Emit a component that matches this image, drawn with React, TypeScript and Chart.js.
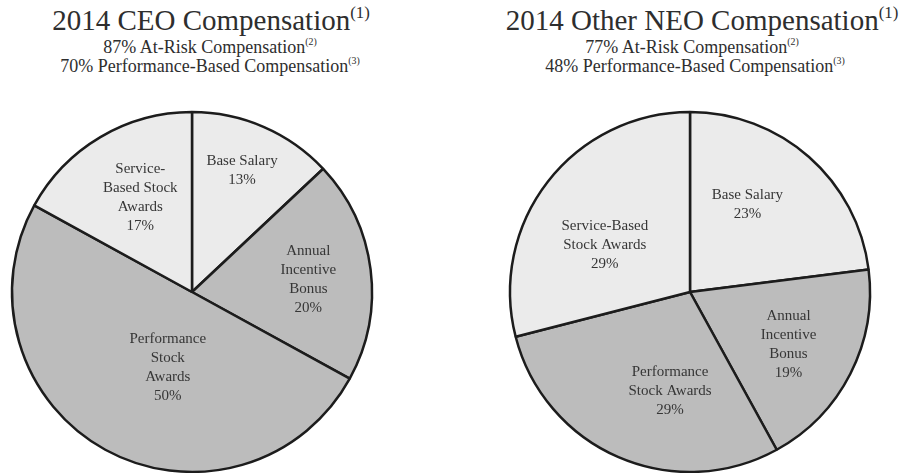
import React, { useEffect, useRef } from "react";
import { Chart, registerables } from "chart.js";

Chart.register(...registerables);

// ---- Data ----
const ceoCategories = ["Base Salary", "Annual Incentive Bonus", "Performance Stock Awards", "Service-Based Stock Awards"];
const ceoValues = [13, 20, 50, 17];
const ceoLabelLines = [
  ["Base Salary"],
  ["Annual", "Incentive", "Bonus"],
  ["Performance", "Stock", "Awards"],
  ["Service-", "Based Stock", "Awards"],
];

const neoCategories = ["Base Salary", "Annual Incentive Bonus", "Performance Stock Awards", "Service-Based Stock Awards"];
const neoValues = [23, 19, 29, 29];
const neoLabelLines = [
  ["Base Salary"],
  ["Annual", "Incentive", "Bonus"],
  ["Performance", "Stock Awards"],
  ["Service-Based", "Stock Awards"],
];

const ceoTitle = "2014 CEO Compensation";
const ceoSub1 = "87% At-Risk Compensation";
const ceoSub2 = "70% Performance-Based Compensation";
const neoTitle = "2014 Other NEO Compensation";
const neoSub1 = "77% At-Risk Compensation";
const neoSub2 = "48% Performance-Based Compensation";

// ---- Styles ----
const LIGHT = "#ebebeb";
const DARK = "#bcbcbc";
const sliceColors = [LIGHT, DARK, DARK, LIGHT];
const FONT = "\"Liberation Serif\", \"Times New Roman\", Times, serif";

const sliceLabelPlugin = {
  id: "sliceLabels",
  afterDatasetsDraw(chart: any, _args: any, opts: any) {
    const meta = chart.getDatasetMeta(0);
    const ctx = chart.ctx;
    const values = chart.data.datasets[0].data as number[];
    ctx.save();
    ctx.font = `15px ${FONT}`;
    ctx.fillStyle = "#363636";
    ctx.textAlign = "center";
    ctx.textBaseline = "middle";
    meta.data.forEach((arc: any, i: number) => {
      const p = arc.getProps(["x", "y", "startAngle", "endAngle", "outerRadius"], true);
      const place = opts.placement[i];
      const mid = (p.startAngle + p.endAngle) / 2 + (place.da * Math.PI) / 180;
      const r = p.outerRadius * place.f;
      const cx = p.x + Math.cos(mid) * r;
      const cy = p.y + Math.sin(mid) * r;
      const lines = [...opts.lines[i], `${values[i]}%`];
      const lh = 19;
      const top = cy - ((lines.length - 1) * lh) / 2;
      lines.forEach((t: string, k: number) => ctx.fillText(t, cx, top + k * lh));
    });
    ctx.restore();
  },
};

function PieChart(props: { categories: string[]; values: number[]; lines: string[][]; placement: { f: number; da: number }[] }) {
  const ref = useRef<HTMLCanvasElement>(null);
  useEffect(() => {
    if (!ref.current) return;
    const chart = new Chart(ref.current, {
      type: "pie",
      data: {
        labels: props.categories,
        datasets: [
          {
            data: props.values,
            backgroundColor: sliceColors,
            borderColor: "#1c1c1c",
            borderWidth: 2.5,
            radius: 180,
          } as any,
        ],
      },
      options: {
        animation: false,
        responsive: false,
        maintainAspectRatio: false,
        layout: { padding: 0 },
        plugins: {
          legend: { display: false },
          tooltip: { enabled: false },
          sliceLabels: { lines: props.lines, placement: props.placement },
        } as any,
      },
      plugins: [sliceLabelPlugin],
    });
    return () => chart.destroy();
  }, []);
  return <canvas ref={ref} width={380} height={380} style={{ width: 380, height: 380, display: "block" }} />;
}

function Heading(props: { x: number; top: number; size: number; lh: number; text: string; sup: string; supScale: number }) {
  return (
    <div
      style={{
        position: "absolute",
        left: props.x - 250,
        width: 500,
        top: props.top,
        textAlign: "center",
        whiteSpace: "nowrap",
        fontFamily: FONT,
        fontSize: props.size,
        lineHeight: `${props.lh}px`,
        color: "#2e2e2e",
      }}
    >
      {props.text}
      <span style={{ fontSize: `${props.supScale}em`, position: "relative", top: `-${props.size * 0.42}px` }}>{props.sup}</span>
    </div>
  );
}

export default function App() {
  return (
    <div style={{ position: "fixed", left: 0, top: 0, width: 904, height: 473, background: "#fff", overflow: "hidden" }}>
      <div style={{ position: "absolute", left: 192 - 190, top: 292 - 190 }}>
        <PieChart
          categories={ceoCategories}
          values={ceoValues}
          lines={ceoLabelLines}
          placement={[
            { f: 0.73, da: -1 },
            { f: 0.65, da: 1 },
            { f: 0.44, da: -11 },
            { f: 0.6, da: 2 },
          ]}
        />
      </div>
      <div style={{ position: "absolute", left: 690 - 190, top: 292 - 190 }}>
        <PieChart
          categories={neoCategories}
          values={neoValues}
          lines={neoLabelLines}
          placement={[
            { f: 0.58, da: -8 },
            { f: 0.62, da: 1 },
            { f: 0.56, da: -12 },
            { f: 0.54, da: -9 },
          ]}
        />
      </div>
      <Heading x={211} top={4} size={29} lh={32} text={ceoTitle} sup="(1)" supScale={0.58} />
      <Heading x={210} top={38} size={18} lh={19} text={ceoSub1} sup="(2)" supScale={0.55} />
      <Heading x={210} top={57} size={18} lh={19} text={ceoSub2} sup="(3)" supScale={0.55} />
      <Heading x={702} top={4} size={29} lh={32} text={neoTitle} sup="(1)" supScale={0.58} />
      <Heading x={692} top={38} size={18} lh={19} text={neoSub1} sup="(2)" supScale={0.55} />
      <Heading x={695} top={57} size={18} lh={19} text={neoSub2} sup="(3)" supScale={0.55} />
    </div>
  );
}
